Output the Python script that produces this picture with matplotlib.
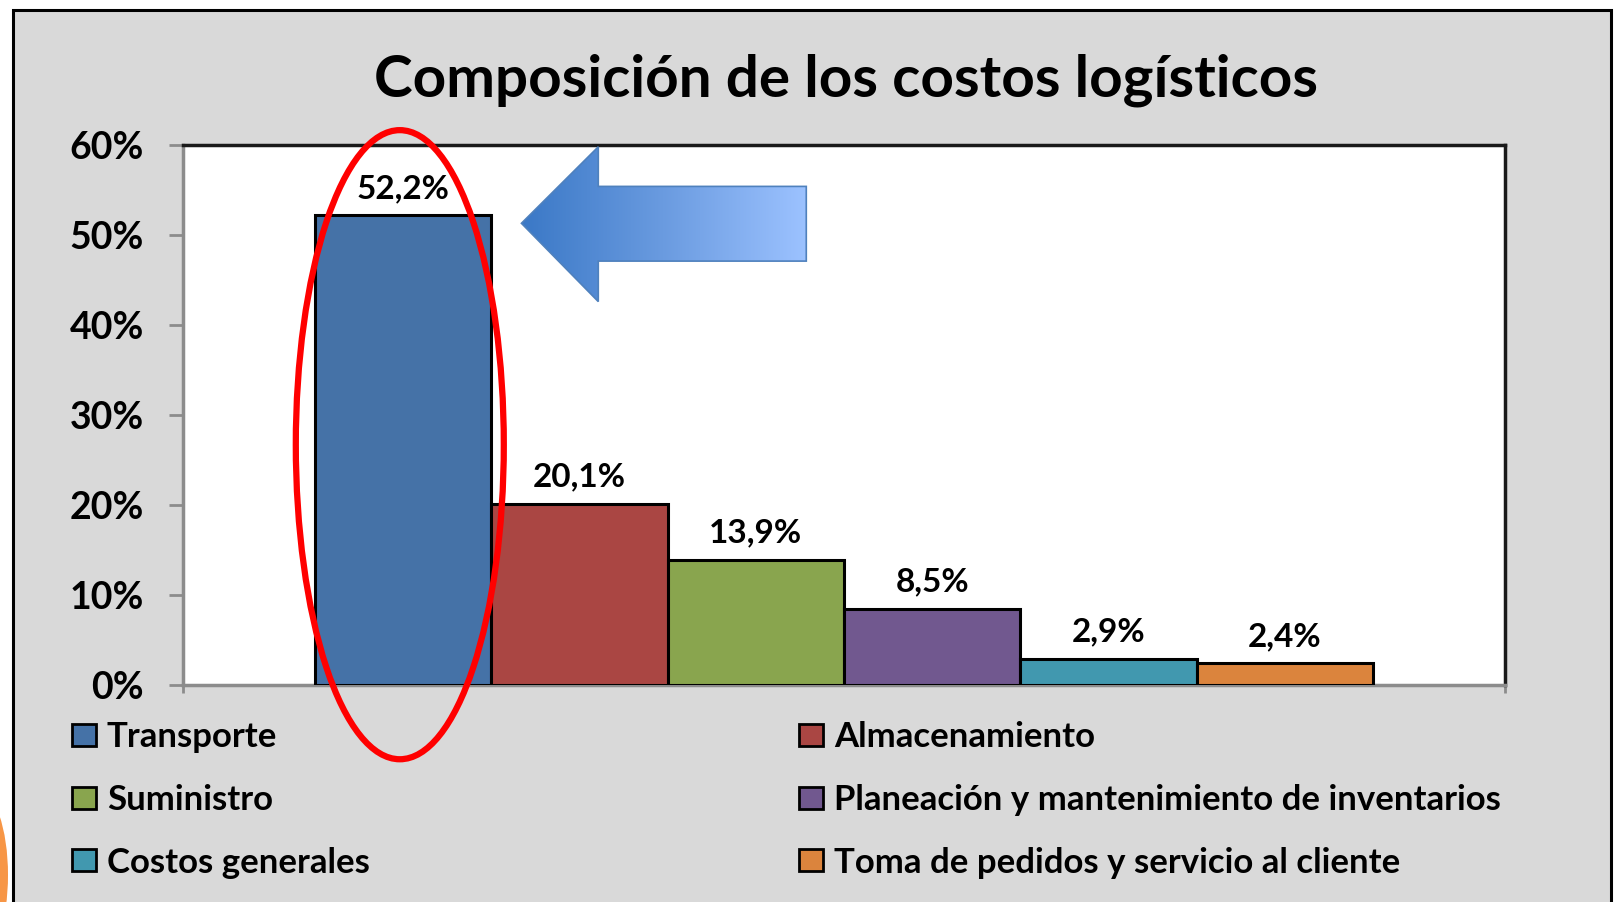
import matplotlib
matplotlib.use('Agg')
import matplotlib.pyplot as plt
import numpy as np
from matplotlib.patches import Rectangle, Ellipse, Polygon, Patch
from matplotlib.colors import LinearSegmentedColormap

# ---------------- data ----------------
categories = ["Transporte", "Almacenamiento", "Suministro",
              "Planeación y mantenimiento de inventarios",
              "Costos generales", "Toma de pedidos y servicio al cliente"]
values = [52.2, 20.1, 13.9, 8.5, 2.9, 2.4]
value_labels = ["52,2%", "20,1%", "13,9%", "8,5%", "2,9%", "2,4%"]
colors = ["#4572A7", "#AA4643", "#89A54E", "#71588F", "#4198AF", "#DB843D"]
yticks = [0, 10, 20, 30, 40, 50, 60]
yticklabels = ["0%", "10%", "20%", "30%", "40%", "50%", "60%"]
title = "Composición de los costos logísticos"

plt.rcParams['font.family'] = ['Lato', 'DejaVu Sans']

W, H = 1614, 902
fig = plt.figure(figsize=(W / 100, H / 100), dpi=100)
fig.patch.set_facecolor('white')

# gray panel with dark border
fig.add_artist(Rectangle((13 / W, -0.05), (1611 - 13) / W, (1 - 10 / H) + 0.05,
                         transform=fig.transFigure, facecolor='#D9D9D9',
                         edgecolor='black', lw=2.2, zorder=0))
# orange slide decoration at bottom-left
fig.add_artist(Ellipse((-22 / W, 1 - 875 / H), 60 / W, 170 / H,
                       transform=fig.transFigure, facecolor='#F79646',
                       edgecolor='none', zorder=0))

ax = fig.add_axes([183 / W, 1 - 685 / H, (1505 - 183) / W, (685 - 145) / H])
ax.set_facecolor('white')

x = np.arange(len(values))
ax.bar(x, values, width=1.0, color=colors, edgecolor='black', linewidth=2.2, zorder=3)

for xi, v, lab in zip(x, values, value_labels):
    ax.annotate(lab, (xi, v), xytext=(0, 12.5), textcoords='offset points',
                ha='center', va='baseline', fontsize=24, fontweight='bold', zorder=5)

ax.set_xlim(-1.25, len(values) + 0.25)
ax.set_ylim(0, 60)
ax.set_yticks(yticks, yticklabels)
ax.set_xticks([-1.25, len(values) + 0.25], ["", ""])
ax.tick_params(axis='y', direction='out', length=10, width=2, color='#8c8c8c',
               pad=18, labelsize=27)
ax.tick_params(axis='x', direction='out', length=6, width=2, color='#8c8c8c')
for t in ax.get_yticklabels():
    t.set_fontweight('bold')

for s in ['left', 'bottom']:
    ax.spines[s].set_color('#8c8c8c')
    ax.spines[s].set_linewidth(2.5)
for s in ['top', 'right']:
    ax.spines[s].set_color('#1a1a1a')
    ax.spines[s].set_linewidth(2.5)

# gradient arrow pointing at the first bar
tip_x, tip_y = 0.67, values[0] - 0.9
verts = [(tip_x, tip_y), (1.106, 59.8), (1.106, 55.4), (2.286, 55.4),
         (2.286, 47.1), (1.106, 47.1), (1.106, 42.6)]
poly = Polygon(verts, closed=True, facecolor='none', edgecolor='#4F81BD', lw=1.2, zorder=5)
ax.add_patch(poly)
cmap = LinearSegmentedColormap.from_list('arr', ['#3A78C6', '#6A9BE0', '#9CC2FF'])
im = ax.imshow(np.linspace(0, 1, 256).reshape(1, -1), cmap=cmap,
               extent=(tip_x, 2.286, 42.6, 59.8), aspect='auto', zorder=4)
im.set_clip_path(poly)
ax.set_xlim(-1.25, len(values) + 0.25)
ax.set_ylim(0, 60)

# red ellipse highlighting the first bar
ax.add_patch(Ellipse((x[0] - 0.02, 26.7), 1.18, 69.9, fill=False, edgecolor='#FF0000',
                     lw=4.5, clip_on=False, zorder=6))

fig.text(846 / W, 1 - 80 / H, title, ha='center', va='center',
         fontsize=42, fontweight='bold')

handles = [Patch(facecolor=c, edgecolor='black', lw=2) for c in colors]
leg_kw = dict(frameon=False, prop={'weight': 'bold', 'size': 25},
              handlelength=0.7, handleheight=0.6, handletextpad=0.3,
              labelspacing=0.88, borderpad=0, borderaxespad=0, loc='center left')
fig.legend([handles[i] for i in (0, 2, 4)], [categories[i] for i in (0, 2, 4)],
           bbox_to_anchor=(72 / W, 1 - 800 / H), **leg_kw)
fig.legend([handles[i] for i in (1, 3, 5)], [categories[i] for i in (1, 3, 5)],
           bbox_to_anchor=(799 / W, 1 - 800 / H), **leg_kw)

fig.savefig('out.png', dpi=100, facecolor=fig.get_facecolor())
